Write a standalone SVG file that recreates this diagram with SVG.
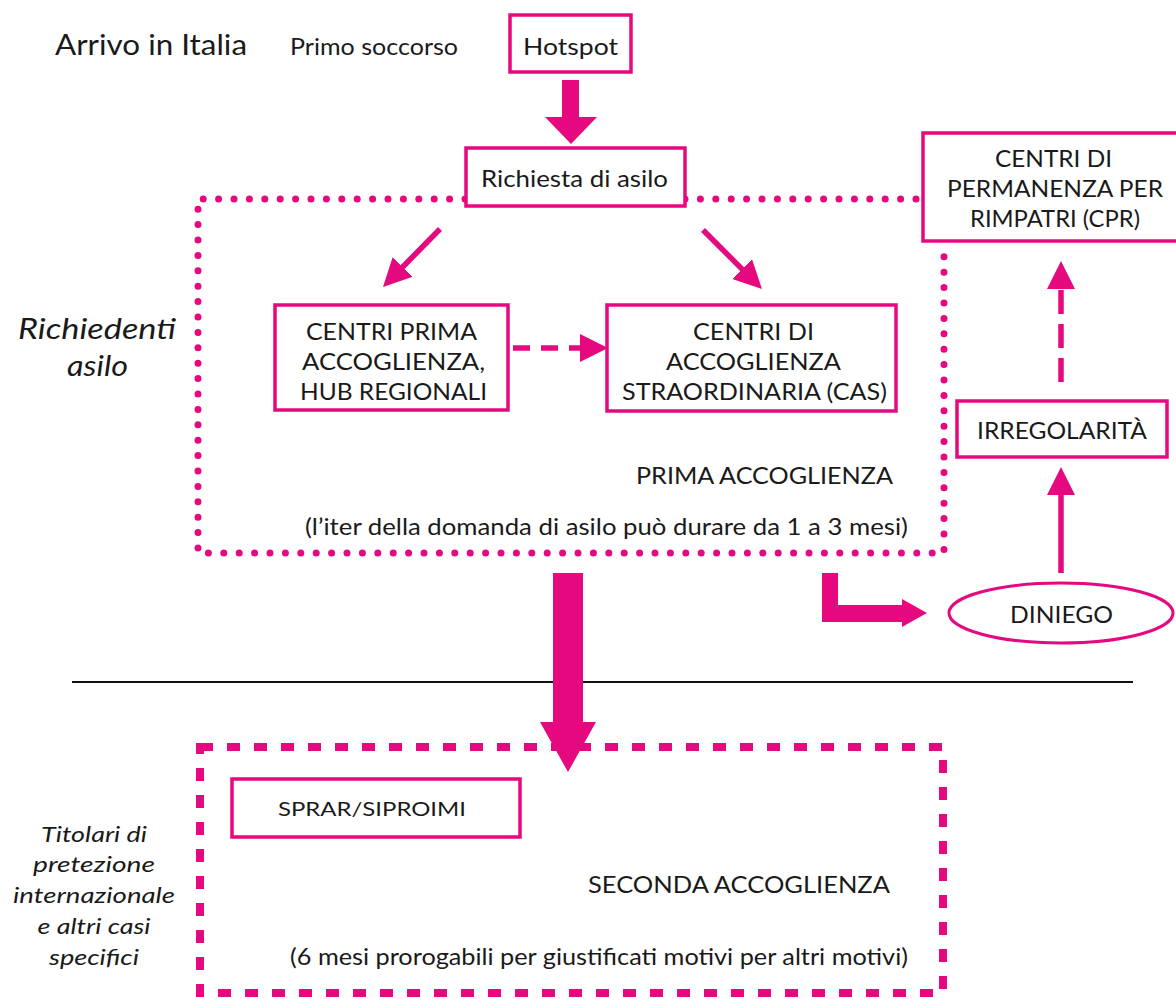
<svg xmlns="http://www.w3.org/2000/svg" width="1176" height="999" viewBox="0 0 1176 999">
<style>
.box{fill:#fff;stroke:#E6087E;stroke-width:3.5}
.t{font-family:Lato,"Liberation Sans",sans-serif;font-size:24px;fill:#1a1a1a}
.i{font-family:Lato,"Liberation Sans",sans-serif;font-style:italic;fill:#1a1a1a}
.ln{stroke:#E6087E;stroke-width:5.5;fill:none}
.fill{fill:#E6087E}
</style>
<defs>
<marker id="head" viewBox="0 0 28 28" refX="2" refY="14" markerWidth="28" markerHeight="28" markerUnits="userSpaceOnUse" orient="auto">
<path d="M0,0 L28,14 L0,28 z" fill="#E6087E"/>
</marker>
</defs>
<rect width="1176" height="999" fill="#fff"/>

<g id="labels">
<text class="t" x="55" y="55" style="font-size:29px" textLength="192" lengthAdjust="spacingAndGlyphs">Arrivo in Italia</text>
<text class="t" x="290" y="55" textLength="168" lengthAdjust="spacingAndGlyphs">Primo soccorso</text>
<text class="i" x="18" y="339" font-size="28" textLength="158" lengthAdjust="spacingAndGlyphs">Richiedenti</text>
<text class="i" x="67" y="376" font-size="28" textLength="61" lengthAdjust="spacingAndGlyphs">asilo</text>
<g class="i" font-size="22" text-anchor="middle">
<text x="94" y="842" textLength="106" lengthAdjust="spacingAndGlyphs">Titolari di</text>
<text x="94" y="872" textLength="122" lengthAdjust="spacingAndGlyphs">pretezione</text>
<text x="94" y="903" textLength="162" lengthAdjust="spacingAndGlyphs">internazionale</text>
<text x="94" y="934" textLength="113" lengthAdjust="spacingAndGlyphs">e altri casi</text>
<text x="94" y="965" textLength="90" lengthAdjust="spacingAndGlyphs">specifici</text>
</g>
</g>

<line x1="72" y1="682" x2="1133" y2="682" stroke="#111" stroke-width="2.2"/>

<g id="prima-accoglienza">
<path d="M465,199 L198,199 L198,553 L944,553 L944,243 M685,199 L922,199" fill="none" stroke="#E6087E" stroke-width="7" stroke-linecap="round" stroke-dasharray="0 15.4"/>
<text class="t" x="636" y="484" textLength="257" lengthAdjust="spacingAndGlyphs">PRIMA ACCOGLIENZA</text>
<text class="t" x="305" y="535" textLength="603" lengthAdjust="spacingAndGlyphs">(l’iter della domanda di asilo può durare da 1 a 3 mesi)</text>
</g>

<g id="seconda-accoglienza">
<rect x="200" y="747" width="743" height="246" fill="none" stroke="#E6087E" stroke-width="8" stroke-dasharray="13 14"/>
<text class="t" x="588" y="893" textLength="302" lengthAdjust="spacingAndGlyphs">SECONDA ACCOGLIENZA</text>
<text class="t" x="290" y="965" textLength="618" lengthAdjust="spacingAndGlyphs">(6 mesi prorogabili per giustificati motivi per altri motivi)</text>
</g>

<g id="connectors">
<polygon class="fill" points="562,80 579,80 579,117 597,117 571,144 545,117 562,117"/>
<line class="ln" x1="440" y1="229" x2="401.2" y2="268.5" marker-end="url(#head)"/>
<line class="ln" x1="703" y1="230" x2="743.6" y2="270.6" marker-end="url(#head)"/>
<line class="ln" x1="513" y1="348" x2="582" y2="348" stroke-dasharray="17 11" marker-end="url(#head)"/>
<line class="ln" x1="1061" y1="382" x2="1061" y2="287" stroke-dasharray="24 10" marker-end="url(#head)"/>
<line class="ln" x1="1061" y1="573" x2="1061" y2="493" marker-end="url(#head)"/>
<polygon class="fill" points="553,573 583,573 583,722 596,722 568,772 540,722 553,722"/>
<polygon class="fill" points="822,573 838,573 838,605 902,605 902,599 927,613 902,627 902,622 822,622"/>
</g>

<g id="hotspot">
<rect class="box" x="510" y="15" width="121" height="57" stroke-width="3"/>
<text class="t" x="523" y="55" textLength="95" lengthAdjust="spacingAndGlyphs">Hotspot</text>
</g>

<g id="richiesta">
<rect class="box" x="466" y="148" width="219" height="58"/>
<text class="t" x="481" y="187" textLength="187" lengthAdjust="spacingAndGlyphs">Richiesta di asilo</text>
</g>

<g id="centri-prima">
<rect class="box" x="275" y="305" width="233" height="105"/>
<text class="t" x="306" y="340" textLength="171" lengthAdjust="spacingAndGlyphs">CENTRI PRIMA</text>
<text class="t" x="302" y="370" textLength="183" lengthAdjust="spacingAndGlyphs">ACCOGLIENZA,</text>
<text class="t" x="300" y="400" textLength="187" lengthAdjust="spacingAndGlyphs">HUB REGIONALI</text>
</g>

<g id="cas">
<rect class="box" x="607" y="305" width="289" height="106"/>
<text class="t" x="693" y="340" textLength="121" lengthAdjust="spacingAndGlyphs">CENTRI DI</text>
<text class="t" x="666" y="370" textLength="175" lengthAdjust="spacingAndGlyphs">ACCOGLIENZA</text>
<text class="t" x="622" y="400" textLength="265" lengthAdjust="spacingAndGlyphs">STRAORDINARIA (CAS)</text>
</g>

<g id="cpr">
<rect class="box" x="923" y="133" width="270" height="108"/>
<text class="t" x="995" y="167" textLength="117" lengthAdjust="spacingAndGlyphs">CENTRI DI</text>
<text class="t" x="947" y="197" textLength="216" lengthAdjust="spacingAndGlyphs">PERMANENZA PER</text>
<text class="t" x="970" y="227" textLength="170" lengthAdjust="spacingAndGlyphs">RIMPATRI (CPR)</text>
</g>

<g id="irregolarita">
<rect class="box" x="957" y="401" width="210" height="56"/>
<text class="t" x="977" y="439" textLength="170" lengthAdjust="spacingAndGlyphs">IRREGOLARITÀ</text>
</g>

<g id="diniego">
<ellipse cx="1061" cy="613" rx="112" ry="30" fill="#fff" stroke="#E6087E" stroke-width="3"/>
<text class="t" x="1010" y="623" textLength="103" lengthAdjust="spacingAndGlyphs">DINIEGO</text>
</g>

<g id="sprar">
<rect class="box" x="232" y="779" width="288" height="58" stroke-width="3"/>
<text class="t" x="278" y="816" style="font-size:20px" textLength="188" lengthAdjust="spacingAndGlyphs">SPRAR/SIPROIMI</text>
</g>
</svg>
